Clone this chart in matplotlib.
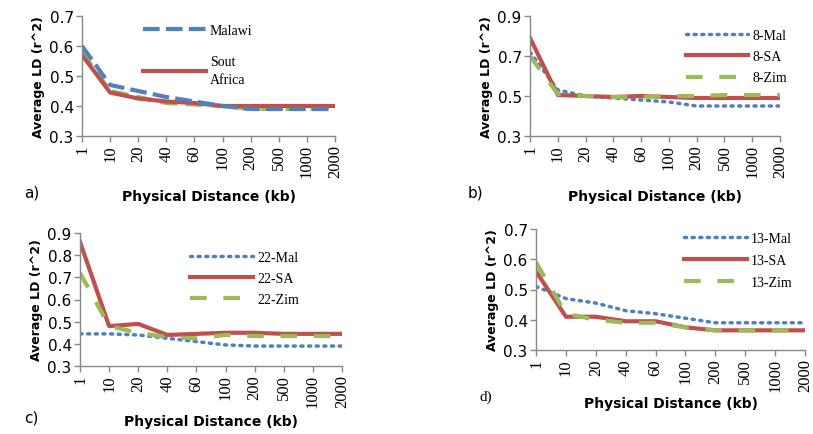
import matplotlib.pyplot as plt

# category axis shared by all four panels
distances = ["1", "10", "20", "40", "60", "100", "200", "500", "1000", "2000"]

# panel a: whole genome
a_malawi = [0.60, 0.47, 0.45, 0.43, 0.415, 0.40, 0.39, 0.39, 0.39, 0.39]
a_sa = [0.57, 0.445, 0.425, 0.415, 0.41, 0.40, 0.40, 0.40, 0.40, 0.40]
a_zim = [0.58, 0.45, 0.43, 0.41, 0.405, 0.40, 0.39, 0.39, 0.39, 0.39]

# panel b: chromosome 8
b_mal = [0.72, 0.53, 0.50, 0.49, 0.48, 0.47, 0.45, 0.45, 0.45, 0.45]
b_sa = [0.79, 0.505, 0.50, 0.495, 0.50, 0.495, 0.49, 0.49, 0.49, 0.49]
b_zim = [0.70, 0.51, 0.50, 0.495, 0.495, 0.50, 0.50, 0.505, 0.505, 0.505]

# panel c: chromosome 22
c_mal = [0.445, 0.445, 0.44, 0.425, 0.41, 0.395, 0.39, 0.39, 0.39, 0.39]
c_sa = [0.86, 0.48, 0.49, 0.44, 0.445, 0.45, 0.45, 0.445, 0.445, 0.445]
c_zim = [0.72, 0.48, 0.45, 0.43, 0.425, 0.44, 0.435, 0.435, 0.435, 0.435]

# panel d: chromosome 13
d_mal = [0.51, 0.47, 0.455, 0.43, 0.42, 0.405, 0.39, 0.39, 0.39, 0.39]
d_sa = [0.56, 0.41, 0.41, 0.395, 0.395, 0.375, 0.365, 0.365, 0.365, 0.365]
d_zim = [0.59, 0.42, 0.40, 0.39, 0.39, 0.375, 0.365, 0.365, 0.365, 0.365]

BLUE = "#4F81BD"
RED = "#C0504D"
GREEN = "#9BBB59"

W, H = 813, 435
fig = plt.figure(figsize=(W / 100, H / 100), dpi=100)


def px_axes(left, top, right, bottom):
    return fig.add_axes([left / W, 1 - bottom / H, (right - left) / W, (bottom - top) / H])


def style_axes(ax, yticks, panel, panel_xy, panel_font, xpad=6):
    x = range(len(distances))
    ax.set_xlim(0, len(distances) - 1)
    ax.set_ylim(yticks[0], yticks[-1])
    ax.set_yticks(yticks)
    ax.set_yticklabels([f"{t:.1f}" for t in yticks], fontsize=11, family="DejaVu Sans")
    ax.set_xticks(list(x))
    ax.set_xticklabels(distances, rotation=90, fontsize=12, family="Liberation Serif")
    for s in ["top", "right"]:
        ax.spines[s].set_visible(False)
    for s in ["left", "bottom"]:
        ax.spines[s].set_color("#888888")
        ax.spines[s].set_linewidth(1.0)
    ax.tick_params(axis="both", colors="#888888", labelcolor="black", length=4, width=1, pad=2)
    ax.set_ylabel("Average LD (r^2)", fontsize=9, fontweight="bold", labelpad=3)
    ax.set_xlabel("Physical Distance (kb)", fontsize=10, fontweight="bold", labelpad=xpad)
    fig.text(panel_xy[0] / W, 1 - panel_xy[1] / H, panel, fontsize=11,
             family=panel_font, va="center", ha="left")


def legend(ax, anchor, spacing, handles=None, labels=None):
    if handles is None:
        handles, labels = ax.get_legend_handles_labels()
    return ax.legend(handles, labels, loc="upper left", bbox_to_anchor=anchor, frameon=False,
                     prop={"family": "Liberation Serif", "size": 10},
                     handlelength=4.5, handletextpad=0.3, labelspacing=spacing,
                     borderaxespad=0)


x = list(range(len(distances)))

# a)
ax = px_axes(82, 17, 335, 137)
ax.plot(x, a_zim, color=GREEN, lw=3, ls=(0, (4, 2)))
ax.plot(x, a_sa, color=RED, lw=3, label="Sout\nAfrica")
ax.plot(x, a_malawi, color=BLUE, lw=3, ls=(0, (4, 1.5)), label="Malawi")
h, l = ax.get_legend_handles_labels()
leg = legend(ax, (0.22, 0.98), 1.3, h[::-1], l[::-1])
for t in leg.get_texts():
    t.set_linespacing(1.5)
style_axes(ax, [0.3, 0.4, 0.5, 0.6, 0.7], "a)", (24, 193), "DejaVu Sans", xpad=8)

# b)
ax = px_axes(530, 17, 780, 137)
ax.plot(x, b_mal, color=BLUE, lw=2.5, ls=(0, (0.6, 1.6)), dash_capstyle="round", label="8-Mal")
ax.plot(x, b_sa, color=RED, lw=3, label="8-SA")
ax.plot(x, b_zim, color=GREEN, lw=3, ls=(0, (4, 4)), label="8-Zim")
legend(ax, (0.6, 0.94), 0.6)
style_axes(ax, [0.3, 0.5, 0.7, 0.9], "b)", (468, 193), "DejaVu Sans", xpad=8)

# c)
ax = px_axes(80, 234, 342, 367)
ax.plot(x, c_mal, color=BLUE, lw=2.5, ls=(0, (0.6, 1.6)), dash_capstyle="round", label="22-Mal")
ax.plot(x, c_sa, color=RED, lw=3, label="22-SA")
ax.plot(x, c_zim, color=GREEN, lw=3, ls=(0, (4, 4)), label="22-Zim")
legend(ax, (0.4, 0.91), 0.6)
style_axes(ax, [0.3, 0.4, 0.5, 0.6, 0.7, 0.8, 0.9], "c)", (24, 418), "DejaVu Sans", xpad=5)

# d)
ax = px_axes(536, 230, 805, 351)
ax.plot(x, d_mal, color=BLUE, lw=2.5, ls=(0, (0.6, 1.6)), dash_capstyle="round", label="13-Mal")
ax.plot(x, d_sa, color=RED, lw=3, label="13-SA")
ax.plot(x, d_zim, color=GREEN, lw=3, ls=(0, (4, 4)), label="13-Zim")
legend(ax, (0.53, 1.02), 0.65)
style_axes(ax, [0.3, 0.4, 0.5, 0.6, 0.7], "d)", (479, 397), "Liberation Serif", xpad=3)

fig.savefig("out.png", dpi=100)
